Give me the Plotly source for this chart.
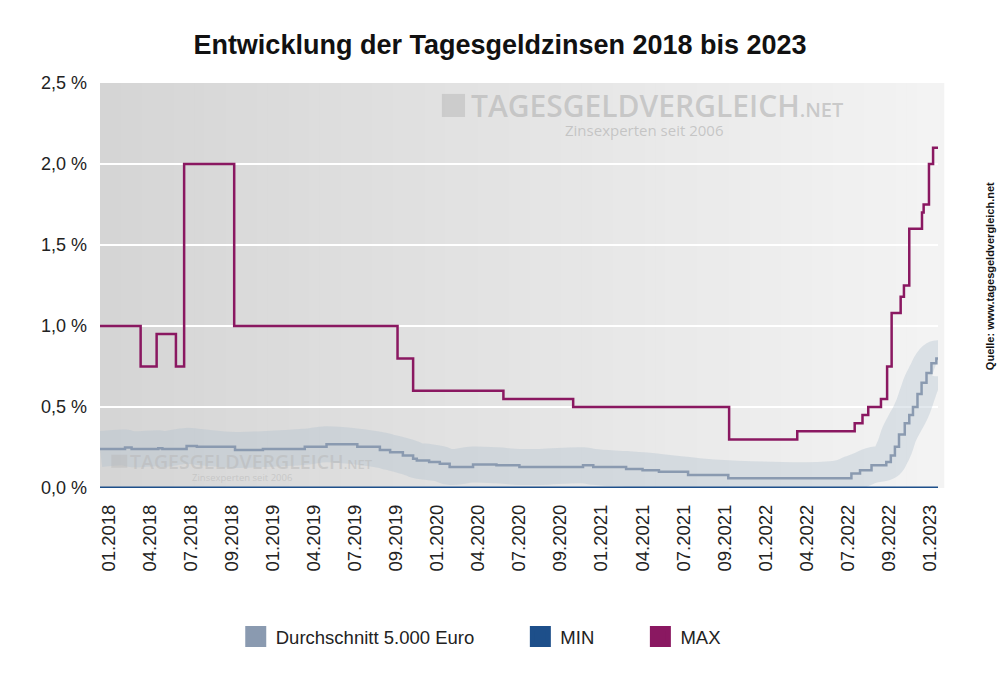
import plotly.graph_objects as go

# ---------------- data ----------------
tick_labels = ["01.2018", "04.2018", "07.2018", "09.2018", "01.2019", "04.2019", "07.2019",
               "09.2019", "01.2020", "04.2020", "07.2020", "09.2020", "01.2021", "04.2021",
               "07.2021", "09.2021", "01.2022", "04.2022", "07.2022", "09.2022", "01.2023"]
tick_pos = list(range(len(tick_labels)))

y_ticks = [0.0, 0.5, 1.0, 1.5, 2.0, 2.5]
y_tick_text = ["0,0 %", "0,5 %", "1,0 %", "1,5 %", "2,0 %", "2,5 %"]

# MAX (step changes, position in tick units)
max_x = [-0.22, 0.77, 1.16, 1.63, 1.83, 3.05, 7.03, 7.41, 9.61, 11.31, 15.11, 16.77, 18.17,
         18.36, 18.50, 18.81, 18.96, 19.07, 19.29, 19.37, 19.50, 19.81, 19.85, 19.98, 20.08, 20.2]
max_y = [1.00, 0.75, 0.95, 0.75, 2.00, 1.00, 0.80, 0.60, 0.55, 0.50, 0.30, 0.35, 0.40,
         0.45, 0.50, 0.55, 0.75, 1.08, 1.18, 1.25, 1.60, 1.70, 1.75, 2.00, 2.10, 2.10]

# Durchschnitt 5.000 Euro
avg_x = [-0.22, 0.39, 0.55, 1.20, 1.30, 1.89, 2.14, 3.07, 3.75, 4.77, 5.30, 6.05, 6.60, 6.85,
         7.16, 7.41, 7.50, 7.80, 8.06, 8.30, 8.87, 9.44, 10.0, 10.5, 11.55, 11.8, 12.6, 13.0,
         13.4, 14.11, 15.09, 17.77, 18.09, 18.30, 18.58, 18.94, 19.05, 19.15, 19.25, 19.39,
         19.50, 19.59, 19.70, 19.80, 19.92, 20.04, 20.16, 20.2]
avg_y = [0.24, 0.25, 0.24, 0.245, 0.24, 0.26, 0.255, 0.235, 0.24, 0.255, 0.27, 0.255, 0.235, 0.22,
         0.20, 0.18, 0.17, 0.16, 0.15, 0.13, 0.145, 0.14, 0.13, 0.13, 0.14, 0.13, 0.117, 0.11,
         0.10, 0.08, 0.06, 0.06, 0.09, 0.11, 0.14, 0.16, 0.20, 0.255, 0.33, 0.40,
         0.45, 0.50, 0.58, 0.65, 0.71, 0.77, 0.80, 0.80]

# MIN
min_x = [-0.22, 20.2]
min_y = [0.0, 0.0]

# ---------------- styles ----------------
FONT = "Arial, Liberation Sans, sans-serif"
C_AVG = "#8a9ab0"
C_BAND = "rgba(176,190,206,0.36)"
C_MIN = "#1d4f8a"
C_MAX = "#8a1861"
NBSP = "\u00a0"

fig = go.Figure()

# band around average
fig.add_trace(go.Scatter(x=avg_x, y=avg_y, mode="lines",
                         line=dict(color=C_BAND, width=36, shape="spline", smoothing=1.2),
                         showlegend=False, hoverinfo="skip"))
fig.add_trace(go.Scatter(x=avg_x, y=avg_y, mode="lines", line=dict(color=C_AVG, width=2.5, shape="hv"),
                         showlegend=False, name="Durchschnitt 5.000 Euro"))
fig.add_trace(go.Scatter(x=max_x, y=max_y, mode="lines", line=dict(color=C_MAX, width=2.5, shape="hv"),
                         showlegend=False, name="MAX"))
fig.add_trace(go.Scatter(x=min_x, y=min_y, mode="lines", line=dict(color=C_MIN, width=3),
                         showlegend=False, name="MIN", cliponaxis=False))

# legend entries (square symbols)
for name, col, pad in [("Durchschnitt 5.000 Euro", C_AVG, 8), ("MIN", C_MIN, 8), ("MAX", C_MAX, 0)]:
    fig.add_trace(go.Scatter(x=[None], y=[None], mode="markers", name=name + NBSP * pad,
                             marker=dict(symbol="square", size=16, color=col, line=dict(color=col, width=5))))

# background gradient strips
shapes = []
n = 80
c0, c1 = 213, 243
for i in range(n):
    t = i / (n - 1)
    c = round(c0 + (c1 - c0) * t)
    shapes.append(dict(type="rect", xref="x domain", yref="y domain", x0=i / n, x1=(i + 1.6) / n,
                       y0=0, y1=1, fillcolor=f"rgb({c},{c},{c})", line=dict(width=0), layer="below"))
# watermark icons
shapes.append(dict(type="rect", xref="paper", yref="paper", x0=0.408, x1=0.4356, y0=0.916, y1=0.973,
                   fillcolor="rgba(185,185,185,0.55)", line=dict(width=0), layer="above"))
shapes.append(dict(type="rect", xref="paper", yref="paper", x0=0.0135, x1=0.0325, y0=0.05, y1=0.082,
                   fillcolor="rgba(185,185,185,0.45)", line=dict(width=0), layer="above"))

annotations = [
    dict(text="TAGESGELDVERGLEICH<span style='font-size:20px'>.NET</span>", xref="paper", yref="paper",
         x=0.44, y=0.945, xanchor="left", yanchor="middle", showarrow=False,
         font=dict(family="Open Sans", size=30, weight=600, color="rgba(185,185,185,0.7)")),
    dict(text="Zinsexperten seit 2006", xref="paper", yref="paper", x=0.650, y=0.884,
         xanchor="center", yanchor="middle", showarrow=False,
         font=dict(family="Open Sans", size=15, color="rgba(185,185,185,0.75)")),
    dict(text="TAGESGELDVERGLEICH<span style='font-size:13px'>.NET</span>", xref="paper", yref="paper",
         x=0.033, y=0.066, xanchor="left", yanchor="middle", showarrow=False,
         font=dict(family="Open Sans", size=19.5, weight=600, color="rgba(185,185,185,0.55)")),
    dict(text="Zinsexperten seit 2006", xref="paper", yref="paper", x=0.169, y=0.025,
         xanchor="center", yanchor="middle", showarrow=False,
         font=dict(family="Open Sans", size=9.5, color="rgba(185,185,185,0.6)")),
    dict(text="<b>Quelle: www.tagesgeldvergleich.net</b>", xref="paper", yref="paper", x=1.062, y=0.523,
         xanchor="center", yanchor="middle", textangle=-90, showarrow=False,
         font=dict(family=FONT, size=11, color="#111111")),
]

fig.update_layout(
    width=1000, height=682,
    margin=dict(l=100, r=62, t=83, b=194),
    paper_bgcolor="white", plot_bgcolor="#e0e0e0",
    title=dict(text="<b>Entwicklung der Tagesgeldzinsen 2018 bis 2023</b>", x=0.5, xref="container",
               y=1 - 45 / 682, yref="container", xanchor="center", yanchor="middle",
               font=dict(family=FONT, size=27, color="#111111")),
    xaxis=dict(range=[-0.22, 20.2], tickvals=tick_pos, ticktext=tick_labels, tickangle=-90,
               showgrid=False, zeroline=False, showline=False, ticks="",
               tickfont=dict(family=FONT, size=18.5, color="#222222"), ticklabelstandoff=12),
    yaxis=dict(range=[0, 2.5], tickvals=y_ticks, ticktext=y_tick_text, showgrid=True,
               gridcolor="white", gridwidth=1.5, zeroline=False, showline=False, ticks="",
               tickfont=dict(family=FONT, size=18, color="#222222"), ticklabelstandoff=12),
    legend=dict(orientation="h", x=0.162, y=-0.368, xanchor="left", yanchor="middle",
                font=dict(family=FONT, size=18.5, color="#222222"), bgcolor="rgba(0,0,0,0)"),
    shapes=shapes, annotations=annotations,
    showlegend=True,
)

fig.write_html("out.html", config={"displayModeBar": False},
               post_script="document.body.style.margin='0px';")
